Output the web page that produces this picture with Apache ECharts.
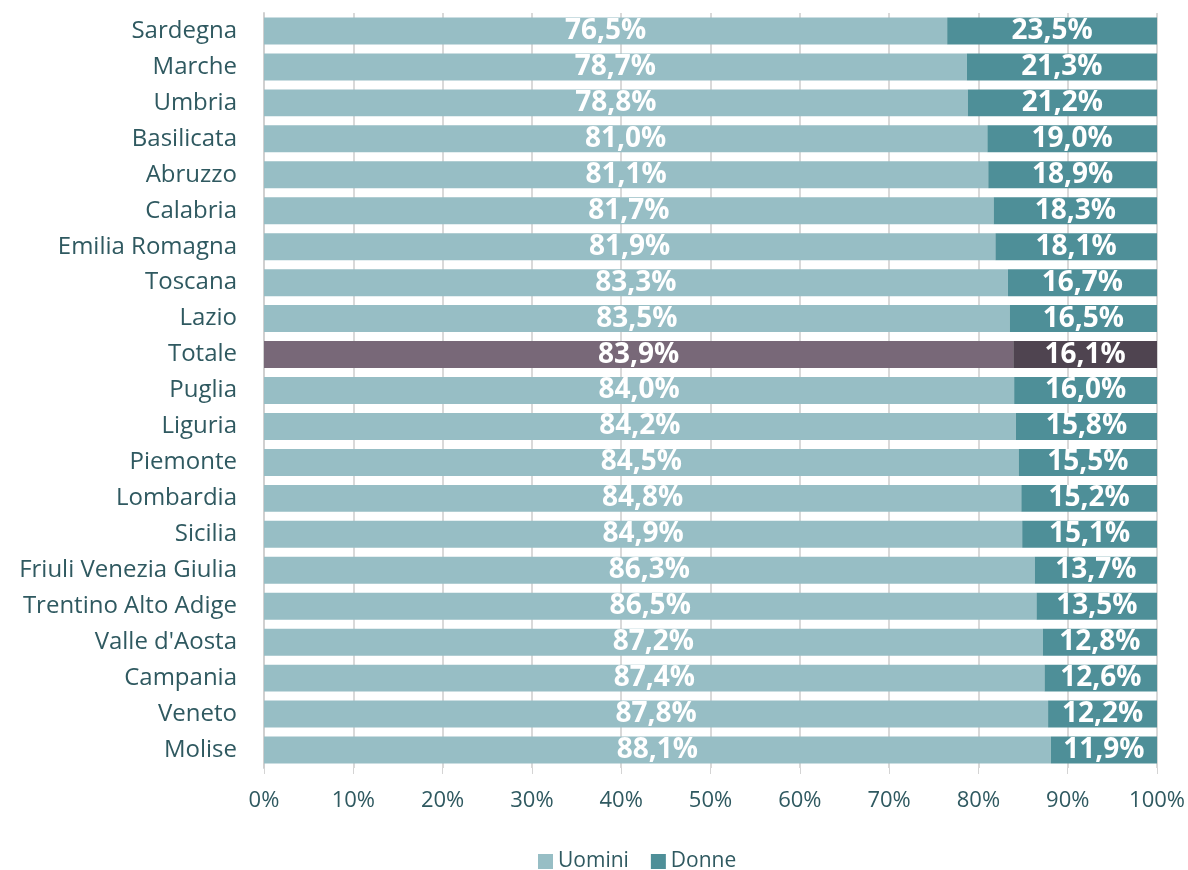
<!DOCTYPE html>
<html>
<head>
<meta charset="utf-8">
<script src="https://cdn.jsdelivr.net/npm/echarts@6/dist/echarts.min.js"></script>
<style>
  html, body { margin: 0; padding: 0; background: #fff; }
  #chart { width: 1188px; height: 870px; }
</style>
</head>
<body>
<div id="chart"></div>
<script>
// regioni, dall'alto verso il basso
const regioni = ['Sardegna','Marche','Umbria','Basilicata','Abruzzo','Calabria','Emilia Romagna','Toscana','Lazio','Totale','Puglia','Liguria','Piemonte','Lombardia','Sicilia','Friuli Venezia Giulia','Trentino Alto Adige',"Valle d'Aosta",'Campania','Veneto','Molise'];
const uomini = [76.5,78.7,78.8,81.0,81.1,81.7,81.9,83.3,83.5,83.9,84.0,84.2,84.5,84.8,84.9,86.3,86.5,87.2,87.4,87.8,88.1];
const donne = [23.5,21.3,21.2,19.0,18.9,18.3,18.1,16.7,16.5,16.1,16.0,15.8,15.5,15.2,15.1,13.7,13.5,12.8,12.6,12.2,11.9];
const xTicks = [0,10,20,30,40,50,60,70,80,90,100];

const textColor = '#2f5960';
const fontFam = '"Open Sans", "Noto Sans", sans-serif';

function fmt(v){ return v.toFixed(1).replace('.', ',') + '%'; }

// la riga "Totale" ha colori propri
function build(values, totColor){
  return values.map((v, i) => {
    if (regioni[i] === 'Totale') return { value: v, itemStyle: { color: totColor } };
    return v;
  });
}

const labelCfg = {
  show: true,
  position: 'inside',
  color: '#fff',
  fontSize: 28,
  fontWeight: 'bold',
  fontFamily: fontFam,
  formatter: p => fmt(p.value)
};

const chart = echarts.init(document.getElementById('chart'));
chart.setOption({
  animation: false,
  textStyle: { fontFamily: fontFam },
  grid: { left: 264, right: 30, top: 13, bottom: 102 },
  legend: {
    left: 533,
    top: 846,
    itemWidth: 15,
    itemHeight: 15,
    itemGap: 22,
    icon: 'rect',
    textStyle: { color: textColor, fontSize: 21, fontFamily: fontFam },
    data: ['Uomini', 'Donne']
  },
  xAxis: {
    type: 'value',
    min: 0,
    max: 100,
    interval: 10,
    axisLine: { show: false },
    axisTick: { show: true, length: 6, lineStyle: { color: '#d4d4d4' } },
    axisLabel: { color: textColor, fontSize: 22, margin: 22, formatter: v => xTicks.includes(v) ? v + '%' : '' },
    splitLine: { show: true, lineStyle: { color: '#d9d9d9', width: 2 } }
  },
  yAxis: {
    type: 'category',
    inverse: true,
    data: regioni,
    axisLine: { show: true, lineStyle: { color: '#d0d0d0', width: 2 } },
    axisTick: { show: false },
    axisLabel: { color: textColor, fontSize: 24, margin: 27 }
  },
  series: [
    {
      name: 'Uomini',
      type: 'bar',
      stack: 'tot',
      barCategoryGap: '25%',
      itemStyle: { color: '#97bec5' },
      label: labelCfg,
      data: build(uomini, '#786878')
    },
    {
      name: 'Donne',
      type: 'bar',
      stack: 'tot',
      barCategoryGap: '25%',
      itemStyle: { color: '#4e8f98' },
      label: labelCfg,
      data: build(donne, '#4f4450')
    }
  ]
});
</script>
</body>
</html>
